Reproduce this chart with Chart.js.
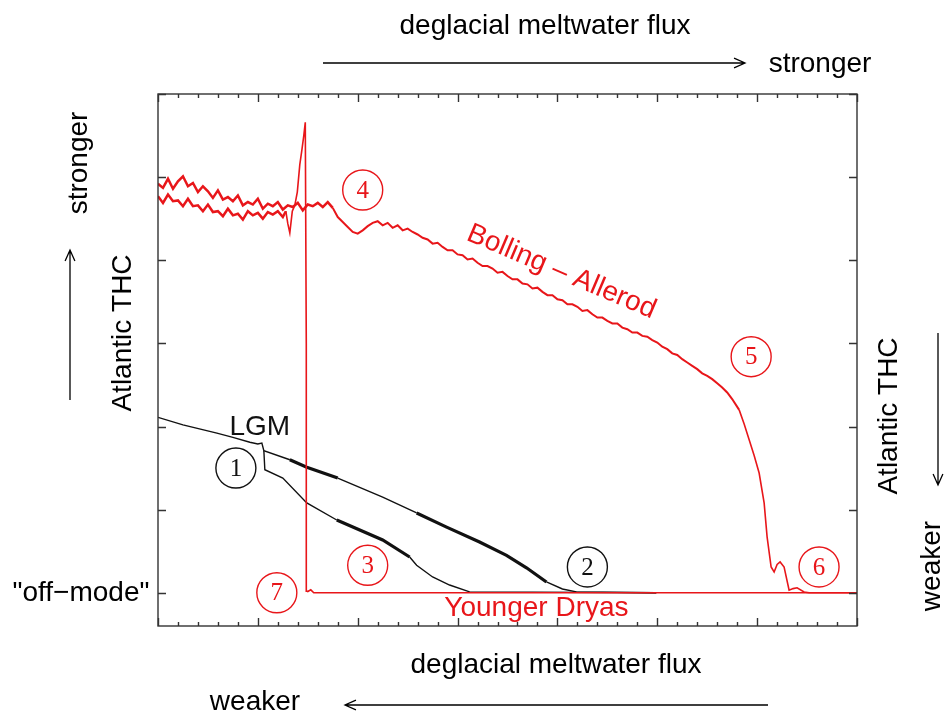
<!DOCTYPE html>
<html>
<head>
<meta charset="utf-8">
<title>Atlantic THC hysteresis</title>
<script src="https://cdn.jsdelivr.net/npm/chart.js@4.4.1/dist/chart.umd.min.js"></script>
<style>
  html, body { margin: 0; padding: 0; background: #fff; }
  #wrap { width: 945px; height: 715px; }
</style>
</head>
<body>
<div id="wrap"><canvas id="grafico" width="945" height="715"></canvas></div>
<script>
// Ejes: flujo de agua de deshielo (x) y THC atlántica (y), unidades arbitrarias
const xMin = 0, xMax = 70;
const yMin = -4, yMax = 60;

// Rama roja de ida: modo "on" con flujo creciente, colapso y modo "off"
const redForwardX = [
  0, 0.5, 1, 1.5, 2, 2.5, 3, 3.5, 4, 4.5, 5, 5.5, 6, 6.5, 7, 7.5, 8, 8.5, 9, 9.5,
  10, 10.5, 11, 11.5, 12, 12.5, 13, 13.5, 14, 14.5, 15, 15.5, 16, 16.5, 17, 17.5, 18, 18.5, 19, 19.5,
  20, 20.5, 21, 21.5, 22, 22.5, 23, 23.5, 24, 24.5, 25, 25.5, 26, 26.5, 27, 27.5, 28, 28.5, 29, 29.5,
  30, 30.5, 31, 31.5, 32, 32.5, 33, 33.5, 34, 34.5, 35, 35.5, 36, 36.5, 37, 37.5, 38, 38.5, 39, 39.5,
  40, 40.5, 41, 41.5, 42, 42.5, 43, 43.5, 44, 44.5, 45, 45.5, 46, 46.5, 47, 47.5, 48, 48.5, 49, 49.5,
  50, 50.5, 51, 51.5, 52, 52.5, 53, 53.5, 54, 54.5, 55, 55.5, 56, 56.5, 57, 57.5,
  58.2, 58.7, 59.2, 59.7, 60.2, 60.7, 61.0, 61.4, 61.7, 62.0, 62.3, 62.7, 63.2, 63.6, 64.0, 64.7, 65.2, 70
];
const redForwardY = [
  49.2, 48.7, 49.8, 48.6, 49.5, 50.1, 48.9, 49.3, 48.2, 48.9, 48.3, 47.5, 48.4, 47.3, 47.6, 47.1, 47.8, 46.6, 47.0, 46.7,
  47.4, 46.2, 46.8, 46.5, 47.0, 46.1, 46.6, 46.4, 46.9, 46.0, 46.7, 46.5, 46.9, 46.4, 47.0, 46.3, 45.2, 44.6, 44.0, 43.4,
  43.2, 43.6, 44.1, 44.5, 44.7, 44.2, 44.5, 43.9, 44.2, 43.6, 43.8, 43.4, 43.1, 42.7, 42.5, 42.0, 42.1, 41.6, 41.2, 41.2,
  40.7, 40.6, 40.1, 40.2, 39.7, 39.3, 39.3, 39.0, 38.5, 38.6, 38.1, 37.7, 37.7, 37.2, 37.1, 36.6, 36.7, 36.2, 35.8, 35.8,
  35.3, 35.2, 34.7, 34.7, 34.4, 33.9, 34.0, 33.5, 33.1, 33.1, 32.7, 32.4, 32.4, 31.9, 31.7, 31.3, 31.3, 30.9, 30.8, 30.4,
  30.1, 29.6, 29.3, 28.8, 28.6, 28.1, 27.7, 27.3, 26.9, 26.4, 26.1, 25.7, 25.2, 24.7, 24.1, 23.3,
  22.0, 20.3, 18.4, 16.5, 14.4, 10.8, 6.7, 3.1, 2.5, 3.4, 3.7, 3.1, 0.3, 0.5, 0.6, 0.1, 0, 0
];

// Rama roja de vuelta: modo "off" hacia la izquierda, reactivación brusca y vuelta al modo "on"
const redReturnX = [
  70, 16.2, 15.6, 15.3, 15.0, 14.9, 14.85, 14.75, 14.6, 14.4, 14.2, 13.95, 13.7, 13.45, 13.2, 13.0, 12.8, 12.5,
  12, 11.5, 11, 10.5, 10, 9.5, 9, 8.5, 8, 7.5, 7, 6.5, 6, 5.5, 5, 4.5, 4, 3.5, 3, 2.5, 2, 1.5, 1, 0.5, 0
];
const redReturnY = [
  0, 0, 0, 0.35, 0.15, 0.2, 30, 56.6, 55.0, 53.2, 51.5, 48.2, 46.6, 45.9, 43.3, 44.4, 45.9, 45.2,
  45.9, 45.5, 45.8, 45.0, 45.7, 45.4, 45.9, 44.9, 45.6, 45.4, 46.2, 45.3, 45.9, 45.8, 46.7, 45.9, 46.6, 46.5, 47.4, 46.5, 47.2, 47.1, 47.9, 46.9, 47.7
];

// Curvas negras desde el LGM
const lgmUpperX = [0, 2.5, 5.9, 7.5, 9.2, 10.0, 10.4, 10.6, 13.2, 14.9, 18.0, 22.5, 25.9, 28.9, 32.2, 34.9, 36.9, 38.9, 40.5, 41.9, 49.9];
const lgmUpperY = [21.1, 20.2, 19.2, 18.7, 18.1, 17.9, 18.0, 17.1, 16.0, 15.1, 13.8, 11.5, 9.6, 7.9, 6.1, 4.5, 3.0, 1.3, 0.45, 0.1, 0];
const lgmLowerX = [10.6, 10.7, 12.5, 14.9, 17.9, 22.5, 25.2, 25.9, 27.5, 29.2, 31.2, 49.9];
const lgmLowerY = [17.1, 14.8, 13.8, 10.8, 8.75, 6.35, 4.3, 3.3, 1.9, 0.93, 0.1, 0];

// Etapas numeradas
const stageNames = ['1', '2', '3', '4', '5', '6', '7'];
const stageX = [7.8, 43.0, 21.0, 20.5, 59.4, 66.2, 11.9];
const stageY = [15.0, 3.1, 3.3, 48.45, 28.4, 3.1, 0];

const ROJO = '#e8161a';
const NEGRO = '#111';
const etapasRojas = ['3', '4', '5', '6', '7'];

// tramos con mucho ruido que se ven más gruesos
const tramosGruesosArriba = [[13.2, 18.2], [26, 37.9]];
const tramosGruesosAbajo = [[17.9, 25.5]];

function puntos(xs, ys) {
    return xs.map((x, i) => ({ x: x, y: ys[i] }));
}

function grosor(tramos) {
    return ctx => {
        const m = (ctx.p0.parsed.x + ctx.p1.parsed.x) / 2;
        return tramos.some(t => m >= t[0] && m <= t[1]) ? 3.2 : undefined;
    };
}

// la rama "on" es muy ruidosa: a la izquierda parece una banda gruesa
function grosorRojo(limite) {
    return ctx => {
        const m = (ctx.p0.parsed.x + ctx.p1.parsed.x) / 2;
        if (m < limite) return 2.5;
        if (m > 17 && m < 58 && ctx.p0.parsed.y > 20) return 2.0;
        return undefined;
    };
}

function flecha(ctx, x1, y1, x2, y2) {
    const ang = Math.atan2(y2 - y1, x2 - x1);
    ctx.beginPath();
    ctx.moveTo(x1, y1);
    ctx.lineTo(x2, y2);
    ctx.moveTo(x2 - 12 * Math.cos(ang - 0.42), y2 - 12 * Math.sin(ang - 0.42));
    ctx.lineTo(x2, y2);
    ctx.lineTo(x2 - 12 * Math.cos(ang + 0.42), y2 - 12 * Math.sin(ang + 0.42));
    ctx.stroke();
}

function textoGirado(ctx, txt, x, y, ang) {
    ctx.save();
    ctx.translate(x, y);
    ctx.rotate(ang);
    ctx.fillText(txt, 0, 0);
    ctx.restore();
}

// Fondo blanco
const fondo = {
    id: 'fondo',
    beforeDraw(chart) {
        const c = chart.ctx;
        c.save();
        c.fillStyle = '#fff';
        c.fillRect(0, 0, chart.width, chart.height);
        c.restore();
    }
};

// Marco y marcas hacia dentro en los cuatro lados
const marco = {
    id: 'marco',
    afterDraw(chart) {
        const c = chart.ctx;
        const { left, right, top, bottom } = chart.chartArea;
        const sx = chart.scales.x, sy = chart.scales.y;
        c.save();
        c.strokeStyle = '#333';
        c.lineWidth = 1.4;
        c.strokeRect(left, top, right - left, bottom - top);
        c.beginPath();
        for (let v = xMin; v <= xMax; v += 2) {
            const px = Math.round(sx.getPixelForValue(v)) + 0.5;
            const len = v % 10 === 0 ? 8 : 4;
            c.moveTo(px, bottom); c.lineTo(px, bottom - len);
            c.moveTo(px, top); c.lineTo(px, top + len);
        }
        for (let v = 0; v <= yMax; v += 10) {
            const py = Math.round(sy.getPixelForValue(v)) + 0.5;
            c.moveTo(left, py); c.lineTo(left + 8, py);
            c.moveTo(right, py); c.lineTo(right - 8, py);
        }
        c.stroke();
        c.restore();
    }
};

// Etiquetas dentro del gráfico
const anotaciones = {
    id: 'anotaciones',
    afterDatasetsDraw(chart) {
        const c = chart.ctx;
        const sx = chart.scales.x, sy = chart.scales.y;
        c.save();
        c.textAlign = 'center';
        c.textBaseline = 'middle';
        stageNames.forEach((n, i) => {
            const px = sx.getPixelForValue(stageX[i]);
            const py = sy.getPixelForValue(stageY[i]);
            const col = etapasRojas.includes(n) ? ROJO : NEGRO;
            c.strokeStyle = col;
            c.fillStyle = col;
            c.lineWidth = 1.4;
            c.beginPath();
            c.arc(px, py, 20, 0, Math.PI * 2);
            c.stroke();
            c.font = '25px "Liberation Serif", serif';
            c.fillText(n, px, py + 1);
        });
        c.font = '28px "Liberation Sans", Arial, sans-serif';
        c.fillStyle = NEGRO;
        c.fillText('LGM', sx.getPixelForValue(10.2), sy.getPixelForValue(19.9));
        c.fillStyle = ROJO;
        c.fillText('Younger Dryas', sx.getPixelForValue(37.9), sy.getPixelForValue(-1.85));
        textoGirado(c, 'Bolling \u2013 Allerod', sx.getPixelForValue(40.4), sy.getPixelForValue(38.6), 23 * Math.PI / 180);
        c.restore();
    }
};

// Títulos y flechas alrededor del gráfico
const exteriores = {
    id: 'exteriores',
    afterDraw(chart) {
        const c = chart.ctx;
        c.save();
        c.fillStyle = '#000';
        c.strokeStyle = '#000';
        c.lineWidth = 1.3;
        c.font = '28px "Liberation Sans", Arial, sans-serif';
        c.textAlign = 'center';
        c.textBaseline = 'middle';
        c.fillText('deglacial meltwater flux', 545, 26);
        c.fillText('stronger', 820, 64);
        flecha(c, 323, 63, 745, 63);
        c.fillText('deglacial meltwater flux', 556, 665);
        c.fillText('weaker', 255, 702);
        flecha(c, 768, 705, 345, 705);
        c.fillText('"off\u2212mode"', 81, 593);
        textoGirado(c, 'stronger', 79, 163, -Math.PI / 2);
        textoGirado(c, 'Atlantic THC', 123, 333, -Math.PI / 2);
        flecha(c, 70, 400, 70, 250);
        textoGirado(c, 'Atlantic THC', 889, 416, -Math.PI / 2);
        textoGirado(c, 'weaker', 932, 566, -Math.PI / 2);
        flecha(c, 938, 333, 938, 485);
        c.restore();
    }
};

new Chart(document.getElementById('grafico').getContext('2d'), {
    type: 'scatter',
    data: {
        datasets: [
            {
                label: 'ida',
                data: puntos(redForwardX, redForwardY),
                showLine: true,
                borderColor: ROJO,
                borderWidth: 1.6,
                pointRadius: 0,
                segment: { borderWidth: grosorRojo(17.5) }
            },
            {
                label: 'vuelta',
                data: puntos(redReturnX, redReturnY),
                showLine: true,
                borderColor: ROJO,
                borderWidth: 1.6,
                pointRadius: 0,
                segment: { borderWidth: grosorRojo(12.9) }
            },
            {
                label: 'LGM superior',
                data: puntos(lgmUpperX, lgmUpperY),
                showLine: true,
                borderColor: NEGRO,
                borderWidth: 1.4,
                pointRadius: 0,
                segment: { borderWidth: grosor(tramosGruesosArriba) }
            },
            {
                label: 'LGM inferior',
                data: puntos(lgmLowerX, lgmLowerY),
                showLine: true,
                borderColor: NEGRO,
                borderWidth: 1.4,
                pointRadius: 0,
                segment: { borderWidth: grosor(tramosGruesosAbajo) }
            }
        ]
    },
    options: {
        responsive: false,
        animation: false,
        layout: { padding: { left: 158, right: 88, top: 94, bottom: 89 } },
        plugins: { legend: { display: false }, tooltip: { enabled: false } },
        scales: {
            x: { type: 'linear', min: xMin, max: xMax, display: false },
            y: { type: 'linear', min: yMin, max: yMax, display: false }
        }
    },
    plugins: [fondo, marco, anotaciones, exteriores]
});
</script>
</body>
</html>
